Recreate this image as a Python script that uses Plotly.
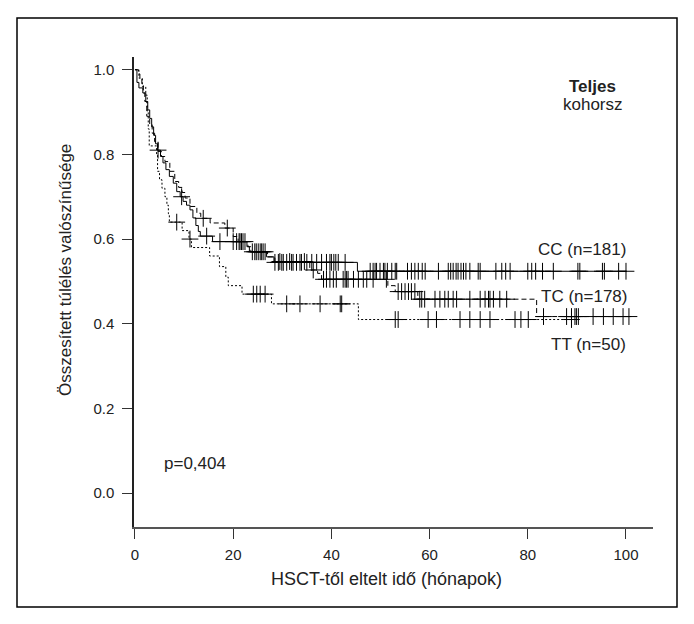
import numpy as np
import plotly.graph_objects as go

# ---- data ----
cc_times = [0, 0.4, 0.8, 1.6, 2.2, 2.6, 3.0, 3.4, 3.8, 4.2, 4.6, 5.2, 5.7, 6.3, 7.0, 7.8, 8.5, 9.2, 9.8,
            10.5, 11.2, 11.8, 12.4, 12.9, 13.3, 15.8, 22.8, 23.3, 26.8, 28.3, 45.3]
cc_surv = [1.0, 0.97, 0.957, 0.945, 0.925, 0.905, 0.885, 0.865, 0.845, 0.825, 0.81, 0.795, 0.78, 0.764, 0.748,
           0.732, 0.712, 0.70, 0.689, 0.68, 0.669, 0.65, 0.632, 0.618, 0.607, 0.594, 0.582, 0.570, 0.558,
           0.545, 0.524]
cc_censor = [4.7, 9.5, 14.6, 17.3, 20.0, 20.7, 21.4, 21.7, 22.0, 22.4, 23.9, 24.4, 25.1, 25.5, 25.8, 26.1,
             28.5, 29.2, 29.9, 30.2, 30.9, 31.9, 32.2, 32.9, 33.6, 33.9, 35.0, 36.0, 37.0, 38.0, 39.0, 39.7,
             40.0, 40.5, 40.9, 41.4, 42.8, 47.9, 48.5, 48.9, 49.2, 49.9, 50.6, 50.9, 51.4, 52.3, 53.0, 53.3,
             55.5, 56.3, 57.0, 57.7, 58.5, 59.1, 61.8, 63.8, 64.3, 64.8, 65.4, 65.8, 66.4, 66.9, 67.4, 68.2,
             69.9, 70.3, 73.5, 74.7, 75.5, 76.4, 80.0, 80.8, 81.6, 83.0, 85.2, 90.2, 90.6, 95.2, 95.6, 98.5,
             100.0]

tc_times = [0, 0.7, 1.0, 1.4, 1.7, 2.0, 2.4, 3.0, 3.5, 4.0, 4.7, 5.4, 6.1, 7.1, 8.1, 8.9, 9.6, 10.2, 11.2,
            12.6, 13.4, 15.3, 18.3, 20.0, 21.0, 23.0, 23.6, 27.0, 28.5, 35.6, 37.2, 38.0, 51.5, 53.0, 57.6,
            81.8]
tc_surv = [1.0, 0.99, 0.98, 0.965, 0.945, 0.925, 0.89, 0.87, 0.85, 0.83, 0.807, 0.795, 0.783, 0.76, 0.736,
           0.722, 0.71, 0.697, 0.677, 0.661, 0.649, 0.638, 0.626, 0.606, 0.594, 0.582, 0.570, 0.558, 0.547,
           0.527, 0.519, 0.505, 0.490, 0.476, 0.458, 0.417]
tc_censor = [13.9, 18.8, 21.2, 24.7, 26.5, 29.5, 31.5, 34.5, 36.3, 38.4, 39.0, 39.7, 40.4, 41.0, 42.4, 42.8,
             43.1, 43.4, 44.5, 45.5, 46.5, 47.2, 48.5, 51.2, 53.6, 54.3, 55.0, 55.7, 56.3, 57.0, 58.0, 58.4,
             59.0, 61.1, 62.1, 63.1, 63.8, 64.8, 65.5, 68.2, 70.3, 71.3, 72.0, 72.3, 73.0, 74.3, 75.7, 83.2,
             87.9, 88.9, 89.6, 89.9, 90.3, 93.3, 95.4, 97.4, 99.4, 100.6]

tt_times = [0, 0.8, 1.5, 2.2, 2.5, 2.7, 2.9, 4.4, 4.6, 5.0, 5.5, 6.1, 6.5, 6.8, 7.0, 9.6, 11.0, 11.5, 15.2,
            17.2, 18.5, 19.0, 21.8, 27.8, 45.5]
tt_surv = [1.0, 0.98, 0.96, 0.94, 0.90, 0.86, 0.82, 0.80, 0.76, 0.74, 0.72, 0.70, 0.68, 0.66, 0.64, 0.62,
           0.60, 0.58, 0.56, 0.535, 0.51, 0.49, 0.47, 0.447, 0.41]
tt_censor = [8.5, 11.2, 24.1, 24.8, 25.5, 26.5, 30.9, 33.6, 37.7, 41.8, 42.1, 53.0, 53.6, 59.7, 61.4, 66.2,
             68.2, 70.3, 72.3, 77.4, 78.6, 80.1, 88.9]

group_labels = ["CC (n=181)", "TC (n=178)", "TT (n=50)"]
x_ticks = [0, 20, 40, 60, 80, 100]
y_ticks = [0.0, 0.2, 0.4, 0.6, 0.8, 1.0]
x_title = "HSCT-től eltelt idő (hónapok)"
y_title = "Összesített túlélés valószínűsége"

FONT = "Liberation Sans, Arial, sans-serif"
INK = "#222222"

# plot-area geometry (pixels) used to place paper-referenced items
L, R, T, B = 134, 653, 57, 527
W, H = R - L, B - T


def px_x(p):
    return (p - L) / W


def px_y(p):
    return (B - p) / H


def step_at(times, surv, t):
    idx = np.searchsorted(np.asarray(times), np.asarray(t), side="right") - 1
    return np.asarray(surv)[idx]


fig = go.Figure()
groups = [(cc_times, cc_surv, cc_censor, "solid"),
          (tc_times, tc_surv, tc_censor, "5px,3px"),
          (tt_times, tt_surv, tt_censor, "2px,2px")]
for (t, s, c, dash), name in zip(groups, group_labels):
    end = max(c)
    xs = list(t) + [end]
    ys = list(s) + [s[-1]]
    fig.add_trace(go.Scatter(x=xs, y=ys, mode="lines", line_shape="hv",
                             line=dict(color="black", width=1, dash=dash),
                             name=name, showlegend=False, hoverinfo="skip"))
    fig.add_trace(go.Scatter(x=c, y=step_at(t, s, c), mode="markers",
                             marker=dict(symbol="cross-thin", size=12,
                                         line=dict(color="black", width=1)),
                             showlegend=False, hoverinfo="skip"))

fig.update_layout(
    width=694, height=624,
    margin=dict(l=L, r=694 - R, t=T, b=624 - B),
    paper_bgcolor="white", plot_bgcolor="white",
    font=dict(family=FONT, size=15, color=INK),
    showlegend=False,
)
fig.update_xaxes(range=[-0.2, 105.5], tickvals=x_ticks, ticktext=[str(v) for v in x_ticks],
                 showline=True, linecolor="#555555", linewidth=2, ticks="outside", ticklen=10,
                 tickcolor="#333333", tickwidth=1, showgrid=False, zeroline=False,
                 ticklabelstandoff=3, tickfont=dict(size=15, color=INK))
fig.update_yaxes(range=[-0.08, 1.03], tickvals=y_ticks, ticktext=[f"{v:.1f}" for v in y_ticks],
                 showline=True, linecolor="#222222", linewidth=1.5, ticks="outside", ticklen=10,
                 tickcolor="#333333", tickwidth=1, showgrid=False, zeroline=False,
                 ticklabelstandoff=5, tickfont=dict(size=15, color=INK))

# axis titles
fig.add_annotation(xref="paper", yref="paper", x=px_x(386), y=px_y(579), text=x_title,
                   showarrow=False, xanchor="center", yanchor="middle", font=dict(size=18, color=INK))
fig.add_annotation(xref="paper", yref="paper", x=px_x(65), y=px_y(270), text=y_title, textangle=-90,
                   showarrow=False, xanchor="center", yanchor="middle", font=dict(size=17, color=INK))

label_y = [0.576, 0.464, 0.352]
label_x = [100.5, 100.7, 100.5]
for lx, ly, txt in zip(label_x, label_y, group_labels):
    fig.add_annotation(x=lx, y=ly, text=txt, showarrow=False, xanchor="right", yanchor="middle",
                       font=dict(size=17, color=INK))
fig.add_annotation(x=93.2, y=0.96, text="<b>Teljes</b>", showarrow=False, xanchor="center",
                   yanchor="middle", font=dict(size=17, color=INK))
fig.add_annotation(x=93.2, y=0.917, text="kohorsz", showarrow=False, xanchor="center",
                   yanchor="middle", font=dict(size=17, color=INK))
fig.add_annotation(x=5.5, y=0.071, text="p=0,404", showarrow=False, xanchor="left",
                   yanchor="middle", font=dict(size=17, color=INK))

# outer frame around the whole figure
fig.add_shape(type="rect", xref="paper", yref="paper",
              x0=px_x(17), x1=px_x(677), y0=px_y(607), y1=px_y(18),
              line=dict(color="black", width=1.5), fillcolor="rgba(0,0,0,0)", layer="below")

fig.write_html("out.html")
